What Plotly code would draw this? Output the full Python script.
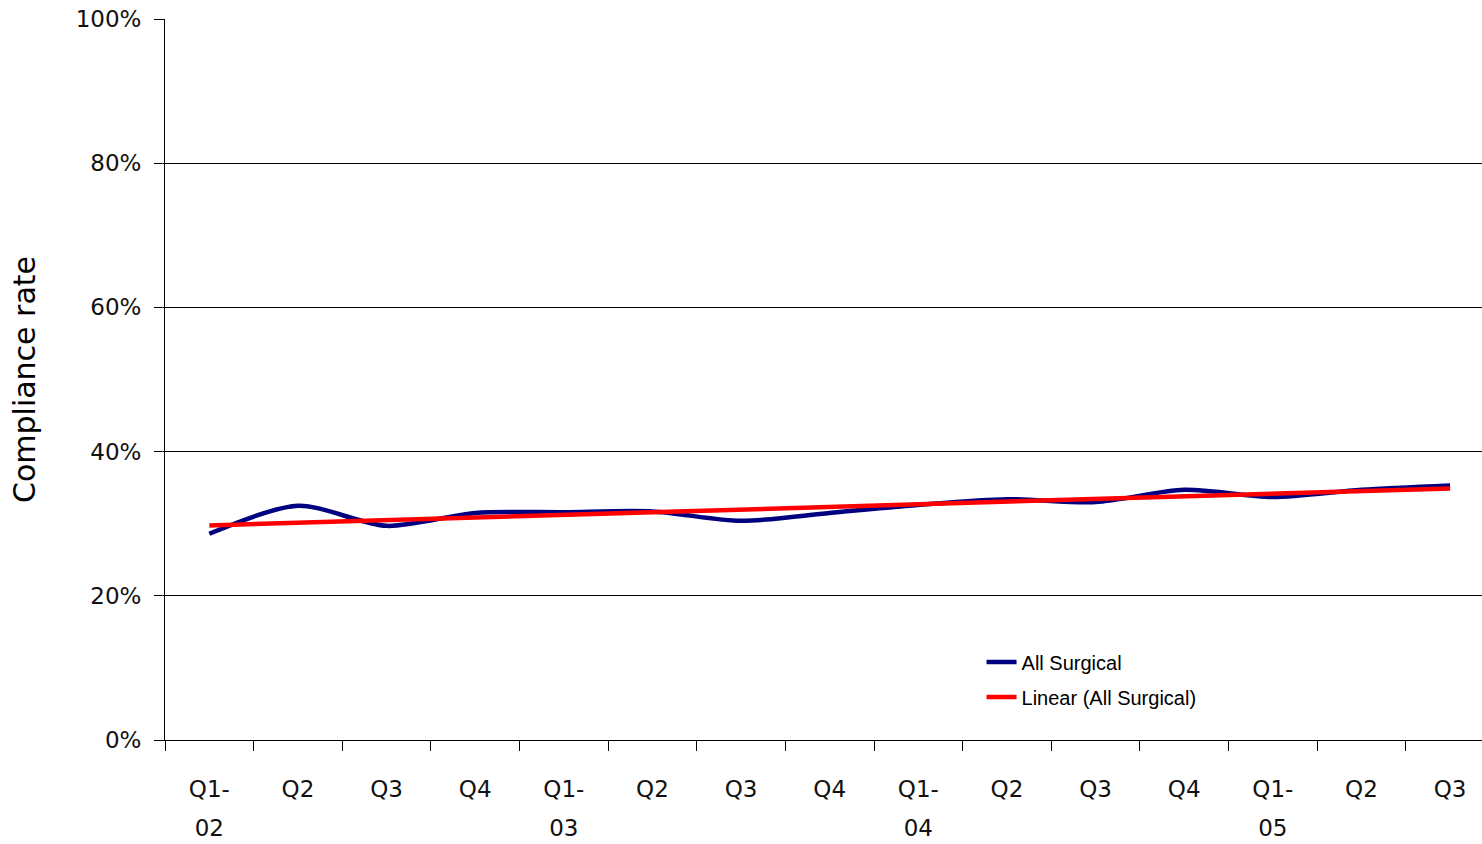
import numpy as np
import plotly.graph_objects as go

# Quarterly compliance, Q1 2002 through Q3 2005
quarter_labels = ["Q1-", "Q2", "Q3", "Q4",
                  "Q1-", "Q2", "Q3", "Q4",
                  "Q1-", "Q2", "Q3", "Q4",
                  "Q1-", "Q2", "Q3"]
year_labels = ["02", "03", "04", "05"]
year_positions = [0, 4, 8, 12]
all_surgical = [0.286, 0.325, 0.297, 0.315, 0.316, 0.317, 0.304, 0.315,
                0.326, 0.334, 0.330, 0.347, 0.337, 0.347, 0.353]
y_ticks = [0, 0.2, 0.4, 0.6, 0.8, 1.0]

x = np.arange(len(quarter_labels))
slope, intercept = np.polyfit(x, all_surgical, 1)
trend = slope * x + intercept

fig = go.Figure()
fig.add_trace(go.Scatter(
    x=x, y=all_surgical, mode="lines", name="All Surgical",
    legendgroup="data",
    line=dict(color="#000080", width=4.5, shape="spline", smoothing=0.8),
))
fig.add_trace(go.Scatter(
    x=x, y=trend, mode="lines", name="Linear (All Surgical)",
    legendgroup="trend",
    line=dict(color="#FF0000", width=4.5),
))
# carrier for the year row of the category axis
fig.add_trace(go.Scatter(x=[], y=[], xaxis="x2", showlegend=False,
                         hoverinfo="skip"))

tick_font = dict(family="DejaVu Sans", size=23, color="#111111")
x_range = [-0.5, 14.36]

fig.update_layout(
    width=1482, height=844,
    margin=dict(l=165, r=0, t=19, b=104, autoexpand=False),
    plot_bgcolor="white", paper_bgcolor="white",
    showlegend=True,
    legend=dict(
        x=0.62, y=0.084, xanchor="left", yanchor="middle",
        bgcolor="rgba(0,0,0,0)", borderwidth=0,
        font=dict(family="Liberation Sans", size=20, color="black"),
        traceorder="grouped", tracegroupgap=6, itemwidth=30,
    ),
    xaxis=dict(
        range=x_range, automargin=False,
        tickmode="array", tickvals=list(x), ticktext=quarter_labels,
        ticks="", showgrid=False, zeroline=False,
        showline=True, linecolor="black", linewidth=1,
        tickfont=tick_font,
        ticklabelstandoff=28,
        minor=dict(tickmode="linear", tick0=-0.5, dtick=1, ticks="outside",
                   ticklen=10, tickcolor="black", tickwidth=1, showgrid=False),
    ),
    xaxis2=dict(
        overlaying="x", side="bottom", range=x_range, automargin=False,
        tickmode="array", tickvals=year_positions, ticktext=year_labels,
        ticks="", showgrid=False, zeroline=False, showline=False,
        tickfont=tick_font, ticklabelstandoff=72,
    ),
    yaxis=dict(
        range=[0, 1.0], tickmode="array", tickvals=y_ticks, automargin=False,
        tickformat=".0%",
        ticks="outside", ticklen=10, tickcolor="black", tickwidth=1,
        showgrid=True, gridcolor="black", gridwidth=1,
        zeroline=False, showline=True, linecolor="black", linewidth=1,
        tickfont=tick_font, ticklabelstandoff=8,
        title=dict(text="Compliance rate",
                   font=dict(family="DejaVu Sans", size=30, color="black"),
                   standoff=31),
    ),
)

fig.write_html("out.html")
